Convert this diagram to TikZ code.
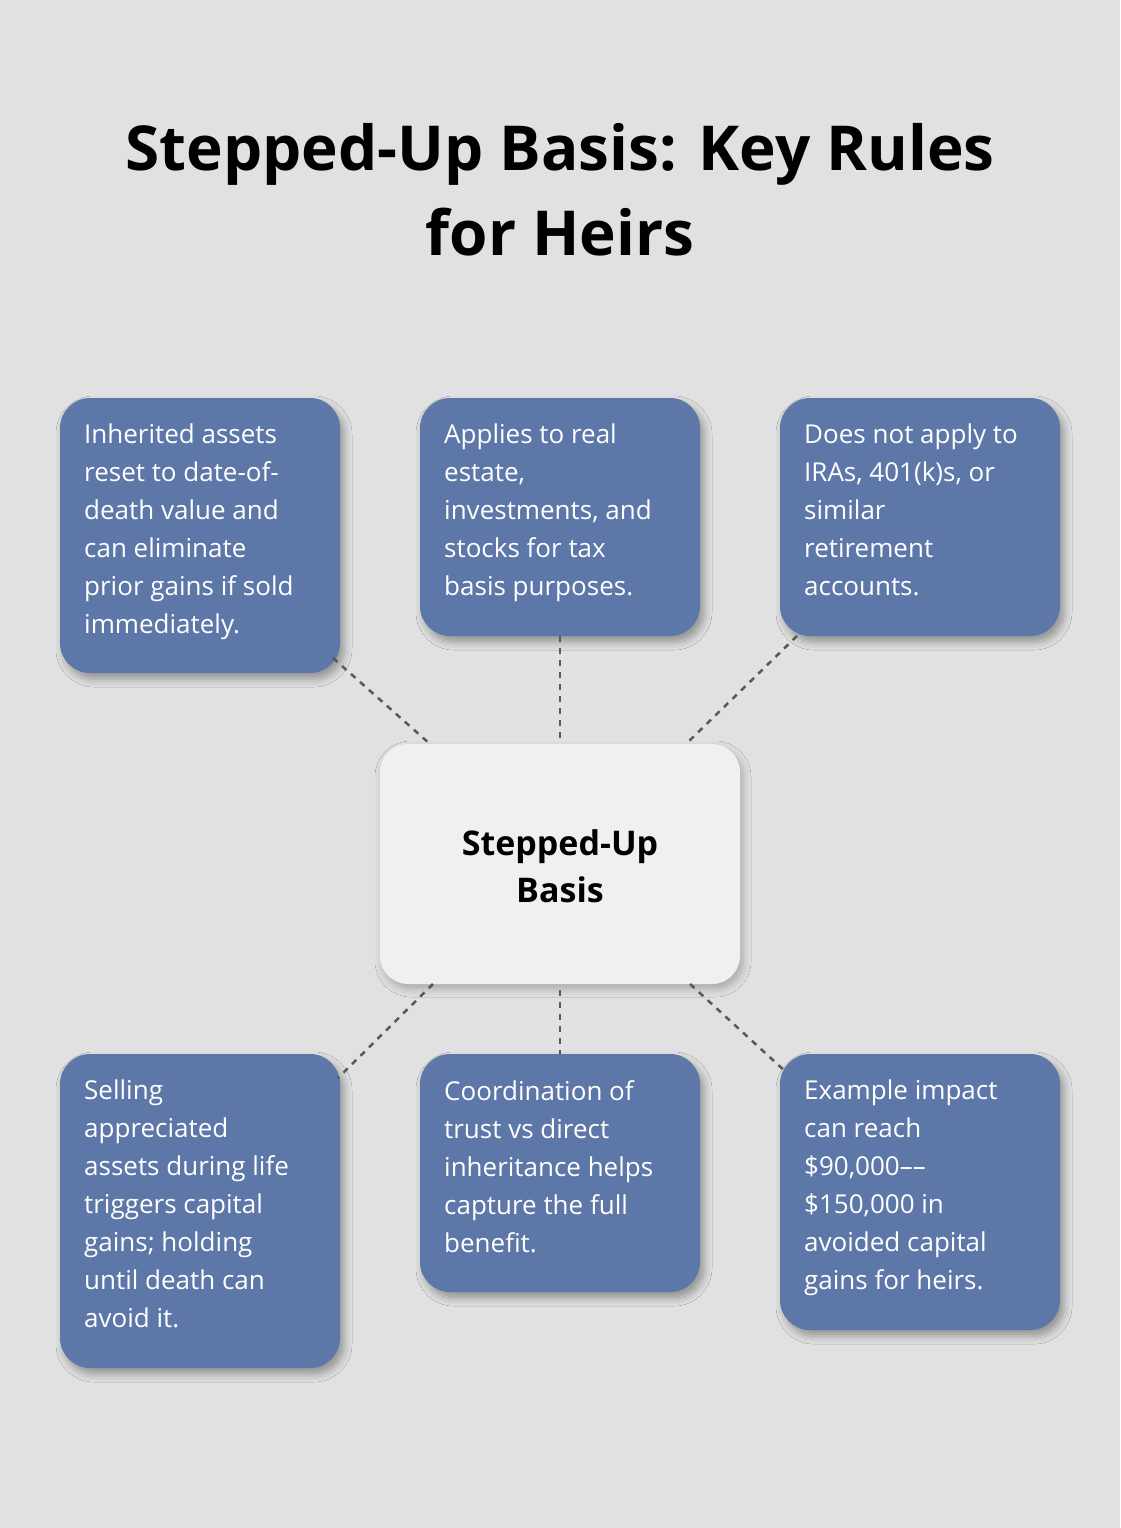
\documentclass[tikz,border=0pt]{standalone}
\usepackage{fontspec}
\setmainfont{Open Sans}
\usetikzlibrary{shadows.blur}
\definecolor{bg}{HTML}{E0E1E0}
\definecolor{boxc}{HTML}{5D77A8}
\definecolor{cen}{HTML}{EFF0F2}
\definecolor{lin}{HTML}{595959}
\tikzset{
 infobox/.style={fill=boxc, rounded corners=30pt, text=white, align=left, anchor=north west, inner sep=0pt,
   font=\fontsize{26}{38}\selectfont, blur shadow={shadow xshift=4pt, shadow yshift=-6pt, shadow blur radius=8pt, shadow opacity=35}},
 conn/.style={draw=lin, line width=2.5pt, dash pattern=on 6pt off 6pt}
}
\begin{document}
\begin{tikzpicture}[x=1pt,y=-1pt]
\fill[bg] (0,0) rectangle (1120,1528);
\useasboundingbox (0,0) rectangle (1120,1528);
\node[font=\bfseries\fontsize{62}{85}\selectfont, align=center] (title) at (560,190) {Stepped-Up Basis: Key Rules\\for Heirs};
% boxes as filled rectangles
\newcommand{\bx}[6]{%
 \fill[boxc, rounded corners=30pt, blur shadow={shadow xshift=4pt, shadow yshift=-6pt, shadow blur radius=8pt, shadow opacity=35}] (#1,#2) rectangle (#3,#4);
 \node[anchor=north west, text=white, align=left, inner sep=0pt, font=\fontsize{26}{38}\selectfont] (#5) at (#1+24,#2+26) {#6};}
\bx{60}{398}{340}{673}{tl}{Inherited assets\\reset to date-of-\\death value and\\can eliminate\\prior gains if sold\\immediately.}
\bx{420}{398}{700}{636}{tm}{Applies to real\\estate,\\investments, and\\stocks for tax\\basis purposes.}
\bx{780}{398}{1060}{636}{tr}{Does not apply to\\IRAs, 401(k)s, or\\similar\\retirement\\accounts.}
\bx{60}{1054}{340}{1368}{bl}{Selling\\appreciated\\assets during life\\triggers capital\\gains; holding\\until death can\\avoid it.}
\bx{420}{1054}{700}{1292}{bm}{Coordination of\\trust vs direct\\inheritance helps\\capture the full\\benefit.}
\bx{780}{1054}{1060}{1330}{br}{Example impact\\can reach\\\$90,000--–\\\$150,000 in\\avoided capital\\gains for heirs.}
\fill[cen, rounded corners=28pt, blur shadow={shadow xshift=3pt, shadow yshift=-5pt, shadow blur radius=8pt, shadow opacity=25}] (380,744) rectangle (740,984);
\node[font=\bfseries\fontsize{34}{47}\selectfont, align=center] (c) at (560,866) {Stepped-Up\\Basis};
\coordinate (a1) at (333,658); \coordinate (a2) at (430,744);
\coordinate (b1) at (560,636); \coordinate (b2) at (560,744);
\coordinate (c1) at (797,636); \coordinate (c2) at (686,744);
\coordinate (d1) at (433,984); \coordinate (d2) at (338,1078);
\coordinate (e1) at (560,990); \coordinate (e2) at (560,1054);
\coordinate (f1) at (690,984); \coordinate (f2) at (786,1072);
\draw[conn] (a1)--(a2); \draw[conn] (b1)--(b2); \draw[conn] (c1)--(c2);
\draw[conn] (d1)--(d2); \draw[conn] (e1)--(e2); \draw[conn] (f1)--(f2);
\end{tikzpicture}
\end{document}
